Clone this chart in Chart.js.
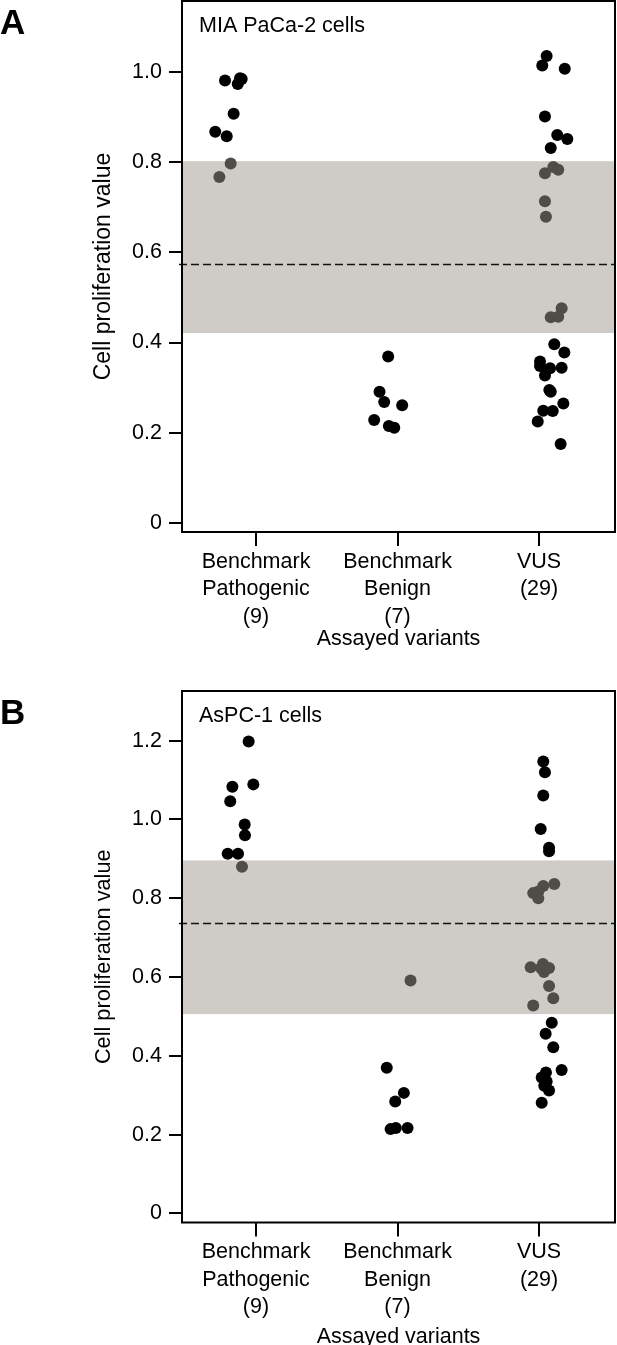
<!DOCTYPE html>
<html>
<head>
<meta charset="utf-8">
<script src="https://cdn.jsdelivr.net/npm/chart.js@4.4.1/dist/chart.umd.min.js"></script>
<style>
  html, body { margin: 0; padding: 0; background: #fff; }
  body { width: 617px; height: 1345px; position: relative; overflow: hidden; }
  canvas { position: absolute; left: 0; }
  #chart-a { top: 0; }
  #chart-b { top: 660px; }
</style>
</head>
<body>
<canvas id="chart-a" width="617" height="655"></canvas>
<canvas id="chart-b" width="617" height="685"></canvas>
<script>
// categories (x = 1, 2, 3)
const GROUPS = [['Benchmark', 'Pathogenic', '(9)'], ['Benchmark', 'Benign', '(7)'], ['VUS', '(29)']];
const GROUP_POS = [1, 2, 3];
const Y_TICKS_A = [0, 0.2, 0.4, 0.6, 0.8, 1.0];
const Y_TICKS_B = [0, 0.2, 0.4, 0.6, 0.8, 1.0, 1.2];

// grey band (low, high) and dashed threshold
const BAND_A = [0.421, 0.802], CUT_A = 0.574;
const BAND_B = [0.506, 0.896], CUT_B = 0.738;

// A - MIA PaCa-2 cells (x = jittered group position, y = value)
const pathoA_x = [0.781, 0.887, 0.871, 0.899, 0.842, 0.712, 0.793, 0.821, 0.741];
const pathoA_y = [0.981, 0.986, 0.973, 0.984, 0.907, 0.867, 0.857, 0.797, 0.767];
const benignA_x = [1.934, 1.873, 1.906, 2.033, 1.835, 1.939, 1.977];
const benignA_y = [0.369, 0.291, 0.268, 0.261, 0.228, 0.215, 0.211];
const vusA_x = [3.054, 3.023, 3.182, 3.042, 3.129, 3.200, 3.083, 3.042, 3.101, 3.136, 3.042, 3.049, 3.160, 3.083, 3.136,
                3.108, 3.179, 3.007, 3.007, 3.078, 3.160, 3.042, 3.073, 3.083, 3.172, 3.030, 3.097, 2.991, 3.153];
const vusA_y = [1.035, 1.014, 1.007, 0.901, 0.860, 0.851, 0.831, 0.775, 0.789, 0.783, 0.713, 0.679, 0.476, 0.456, 0.457,
                0.396, 0.378, 0.358, 0.348, 0.343, 0.344, 0.327, 0.295, 0.291, 0.265, 0.249, 0.248, 0.225, 0.175];

// B - AsPC-1 cells
const pathoB_x = [0.948, 0.981, 0.833, 0.818, 0.920, 0.922, 0.800, 0.873, 0.901];
const pathoB_y = [1.198, 1.089, 1.083, 1.046, 0.987, 0.960, 0.913, 0.913, 0.880];
const benignB_x = [2.092, 1.924, 2.045, 1.984, 1.951, 1.988, 2.071];
const benignB_y = [0.591, 0.370, 0.306, 0.284, 0.214, 0.217, 0.217];
const vusB_x = [3.030, 3.042, 3.030, 3.012, 3.071, 3.071, 3.108, 3.030, 2.995, 2.959, 2.995, 2.941, 3.028, 3.071, 3.035,
                3.014, 3.071, 3.101, 2.959, 3.090, 3.047, 3.101, 3.160, 3.049, 3.019, 3.037, 3.071, 3.019, 3.054];
const vusB_y = [1.147, 1.120, 1.061, 0.976, 0.928, 0.919, 0.836, 0.831, 0.817, 0.813, 0.800, 0.625, 0.633, 0.623, 0.613,
                0.623, 0.577, 0.546, 0.528, 0.484, 0.456, 0.422, 0.364, 0.358, 0.345, 0.324, 0.312, 0.281, 0.335];

const FONT = '"Liberation Sans", Arial, Helvetica, sans-serif';
const BAND_FILL = '#cfccc8';
const IN_BAND = '#504c48';
const OUT_BAND = '#000000';

Chart.defaults.font.family = FONT;
Chart.defaults.color = '#000';

const panelDecor = {
  id: 'panelDecor',
  beforeDatasetsDraw(chart, args, o) {
    const { ctx, chartArea: a, scales: { y } } = chart;
    ctx.save();
    const yHi = y.getPixelForValue(o.band[1]), yLo = y.getPixelForValue(o.band[0]);
    ctx.fillStyle = BAND_FILL;
    ctx.fillRect(a.left, yHi, a.right - a.left, yLo - yHi);
    const yc = Math.round(y.getPixelForValue(o.cut)) + 0.5;
    ctx.strokeStyle = '#111'; ctx.lineWidth = 1.5; ctx.setLineDash([8, 4]);
    ctx.beginPath(); ctx.moveTo(a.left - 3, yc); ctx.lineTo(a.right, yc); ctx.stroke();
    ctx.restore();
  },
  afterDraw(chart, args, o) {
    const { ctx, chartArea: a } = chart;
    ctx.save();
    ctx.strokeStyle = '#000'; ctx.lineWidth = 2;
    ctx.strokeRect(a.left, a.top, a.right - a.left, a.bottom - a.top);
    ctx.fillStyle = '#000';
    ctx.textBaseline = 'alphabetic'; ctx.textAlign = 'left';
    ctx.font = `bold 35px ${FONT}`;
    ctx.fillText(o.letter, 0, a.top + 33);
    ctx.font = `21.5px ${FONT}`;
    ctx.fillText(o.name, a.left + 17, a.top + 31);
    ctx.textAlign = 'center'; ctx.textBaseline = 'middle';
    ctx.fillText('Assayed variants', (a.left + a.right) / 2, a.bottom + o.xTitleGap);
    ctx.translate(104, (a.top + a.bottom) / 2);
    ctx.rotate(-Math.PI / 2);
    ctx.font = `${o.yTitleSize}px ${FONT}`;
    ctx.fillText('Cell proliferation value', 0, 0);
    ctx.restore();
  }
};

function groupSet(xs, ys, band) {
  return {
    data: xs.map((x, i) => ({ x, y: ys[i] })),
    pointRadius: 6, pointHoverRadius: 6, pointBorderWidth: 0,
    pointBackgroundColor: ys.map(v => v >= band[0] && v <= band[1] ? IN_BAND : OUT_BAND),
    showLine: false
  };
}

function makePanel(id, sets, yTicks, yMin, yMax, padTop, xHeight, band, decor) {
  const canvas = document.getElementById(id);
  return new Chart(canvas, {
    type: 'scatter',
    data: { datasets: sets.map(s => groupSet(s[0], s[1], band)) },
    options: {
      responsive: false, animation: false, events: [],
      layout: { autoPadding: false, padding: { top: padTop, right: 2, left: 0, bottom: 0 } },
      plugins: { legend: { display: false }, tooltip: { enabled: false }, panelDecor: decor },
      scales: {
        x: {
          type: 'linear', min: 0.477, max: 3.537,
          afterBuildTicks: s => { s.ticks = GROUP_POS.map(v => ({ value: v })); },
          afterFit: s => { s.height = xHeight; s.paddingLeft = 0; s.paddingRight = 0; },
          grid: { drawOnChartArea: false, tickLength: 14, lineWidth: 2, color: '#000', tickWidth: 2, tickColor: '#000' },
          border: { display: false },
          ticks: {
            padding: 2, maxRotation: 0, autoSkip: false, color: '#000',
            font: { size: 21.5, lineHeight: 1.28 },
            callback: v => GROUPS[GROUP_POS.indexOf(v)] || ''
          }
        },
        y: {
          min: yMin, max: yMax,
          afterBuildTicks: s => { s.ticks = yTicks.map(v => ({ value: v })); },
          afterFit: s => { s.width = 182; s.paddingTop = 0; s.paddingBottom = 0; },
          grid: { drawOnChartArea: false, tickLength: 13, lineWidth: 2, color: '#000', tickWidth: 2, tickColor: '#000' },
          border: { display: false },
          ticks: {
            padding: 7, color: '#000', font: { size: 21.5 },
            callback: v => v === 0 ? '0' : v.toFixed(1)
          }
        }
      }
    },
    plugins: [panelDecor]
  });
}

makePanel('chart-a',
  [[pathoA_x, pathoA_y], [benignA_x, benignA_y], [vusA_x, vusA_y]],
  Y_TICKS_A, -0.02, 1.157, 1, 123, BAND_A,
  { letter: 'A', name: 'MIA PaCa-2 cells', band: BAND_A, cut: CUT_A, xTitleGap: 107, yTitleSize: 23 });

makePanel('chart-b',
  [[pathoB_x, pathoB_y], [benignB_x, benignB_y], [vusB_x, vusB_y]],
  Y_TICKS_B, -0.023, 1.326, 31, 122.5, BAND_B,
  { letter: 'B', name: 'AsPC-1 cells', band: BAND_B, cut: CUT_B, xTitleGap: 115, yTitleSize: 21.7 });
</script>
</body>
</html>
